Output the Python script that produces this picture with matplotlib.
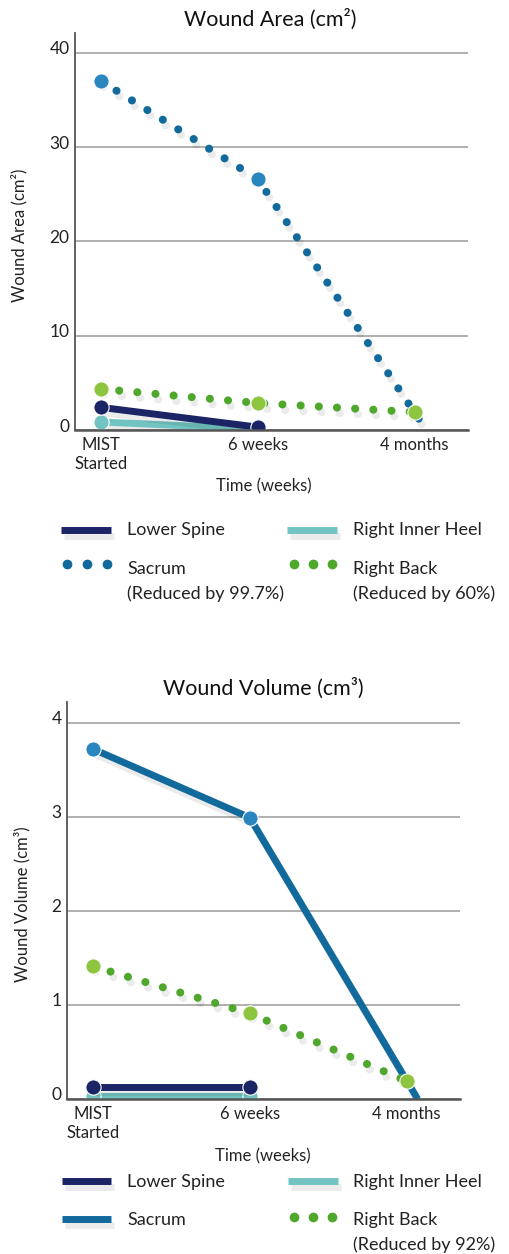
import numpy as np
import matplotlib.pyplot as plt
import matplotlib.patheffects as pe
from matplotlib.lines import Line2D
from matplotlib.transforms import ScaledTranslation

plt.rcParams['font.family'] = ['Lato', 'DejaVu Sans']

# data
times = [0, 1, 2]
time_labels = ['MIST\nStarted', '6 weeks', '4 months']
sacrum_times = [0, 1, 2.07]   # sacrum line runs a bit past the 4 month mark

area_lower_spine = [2.4, 0.3, np.nan]
area_inner_heel = [0.85, 0.1, np.nan]
area_sacrum = [37.0, 26.6, 0.1]
area_right_back = [4.35, 2.86, 1.9]
area_ticks = [0, 10, 20, 30, 40]

vol_lower_spine = [0.13, 0.13, np.nan]
vol_inner_heel = [0.03, 0.03, np.nan]
vol_sacrum = [3.72, 2.99, 0.0]
vol_right_back = [1.41, 0.91, 0.19]
vol_ticks = [0, 1, 2, 3, 4]

navy = '#1b2566'
teal = '#72c4c2'
blue = '#126a9c'
blue_m = '#2a86bf'
green = '#4fa82c'
green_m = '#8dc540'
txt = '#222222'

W, H = 510, 1254
fig = plt.figure(figsize=(W / 100, H / 100), dpi=100)


def fx(px):
    return px / W


def fy(py):
    return 1 - py / H


shadow = [pe.SimpleLineShadow(offset=(2, -4), alpha=0.08), pe.Normal()]


def series(ax, x, y, color, mcolor, dotted, marks, lw=5):
    x = np.array(x, dtype=float)
    y = np.array(y, dtype=float)
    if dotted:
        ax.plot(x, y, color=color, lw=5.8, linestyle=(0, (0.01, 2.25)),
                dash_capstyle='round', path_effects=shadow)
    else:
        ax.plot(x, y, color=color, lw=lw, solid_capstyle='butt',
                path_effects=shadow)
    ax.plot(x[marks], y[marks], 'o', ms=11, mfc=mcolor, mec='white',
            mew=0.8, linestyle='none')


def style_axes(ax, ticks, top, title, ylabel, title_x, ylab_x):
    ax.set_xlim(-0.166, 2.34)
    ax.set_ylim(0, top)
    ax.set_yticks(ticks)
    ax.set_xticks(times, time_labels)
    ax.grid(axis='y', color='#9a9a9a', lw=1.1)
    ax.set_axisbelow(True)
    for s in ['top', 'right']:
        ax.spines[s].set_visible(False)
    ax.spines['left'].set_color('#555555')
    ax.spines['left'].set_linewidth(1.3)
    ax.spines['bottom'].set_color('#555555')
    ax.spines['bottom'].set_linewidth(1.8)
    ax.tick_params(length=0, labelsize=12, labelcolor=txt)
    ax.tick_params(axis='y', labelsize=12.5, pad=4)
    ax.tick_params(axis='x', pad=5)
    for lab in ax.get_yticklabels():
        lab.set_transform(lab.get_transform() +
                          ScaledTranslation(0, 0.05, fig.dpi_scale_trans))
    ax.text(title_x, 1.035, title, transform=ax.transAxes, ha='center',
            va='center', fontsize=15.5, color='#111111')
    ax.set_ylabel(ylabel, fontsize=12, color=txt)
    ax.yaxis.set_label_coords(ylab_x, 0.49)
    ax.set_xlabel('Time (weeks)', fontsize=12, color=txt)


# ---- wound area
ax1 = fig.add_axes([fx(75), fy(430), fx(468) - fx(75), fy(33) - fy(430)])
series(ax1, times, area_inner_heel, teal, teal, False, [0, 1])
series(ax1, times, area_lower_spine, navy, navy, False, [0, 1])
series(ax1, sacrum_times, area_sacrum, blue, blue_m, True, [0, 1])
series(ax1, times, area_right_back, green, green_m, True, [0, 1, 2])
style_axes(ax1, area_ticks, 42.1, 'Wound Area (cm²)', 'Wound Area (cm²)', 0.496, -0.12)
ax1.xaxis.set_label_coords(0.481, -0.121)

# ---- wound volume
ax2 = fig.add_axes([fx(67), fy(1099), fx(460) - fx(67), fy(702) - fy(1099)])
series(ax2, times, vol_inner_heel, teal, teal, False, [0, 1])
series(ax2, times, vol_lower_spine, navy, navy, False, [0, 1])
series(ax2, sacrum_times, vol_sacrum, blue, blue_m, False, [0, 1])
series(ax2, times, vol_right_back, green, green_m, True, [0, 1, 2])
style_axes(ax2, vol_ticks, 4.22, 'Wound Volume (cm³)', 'Wound Volume (cm³)', 0.5, -0.092)
ax2.xaxis.set_label_coords(0.499, -0.123)


# ---- legends (drawn by hand to match the two-column layout)
def leg_line(x0, x1, y, color):
    fig.add_artist(Line2D([fx(x0), fx(x1)], [fy(y), fy(y)], color=color, lw=5,
                          solid_capstyle='butt', path_effects=shadow))


def leg_dots(xs, y, color):
    fig.add_artist(Line2D([fx(v) for v in xs], [fy(y)] * len(xs), color=color,
                          marker='o', ms=6, linestyle='none'))


def leg_text(x, y, s):
    fig.text(fx(x), fy(y), s, ha='left', va='center', fontsize=13, color=txt)


leg_line(61, 111, 530, navy)
leg_text(127, 530, 'Lower Spine')
leg_line(287, 337, 530, teal)
leg_text(353, 530, 'Right Inner Heel')
leg_dots([67, 87, 107], 564, blue)
leg_text(127, 569, 'Sacrum')
leg_text(127, 594, '(Reduced by 99.7%)')
leg_dots([294, 313, 332], 564, green)
leg_text(353, 569, 'Right Back')
leg_text(353, 594, '(Reduced by 60%)')

leg_line(62, 111, 1181, navy)
leg_text(127, 1182, 'Lower Spine')
leg_line(288, 338, 1181, teal)
leg_text(353, 1182, 'Right Inner Heel')
leg_line(62, 111, 1219, blue)
leg_text(127, 1220, 'Sacrum')
leg_dots([294, 313, 332], 1217, green)
leg_text(353, 1220, 'Right Back')
leg_text(353, 1245, '(Reduced by 92%)')

fig.savefig('out.png', dpi=100)
